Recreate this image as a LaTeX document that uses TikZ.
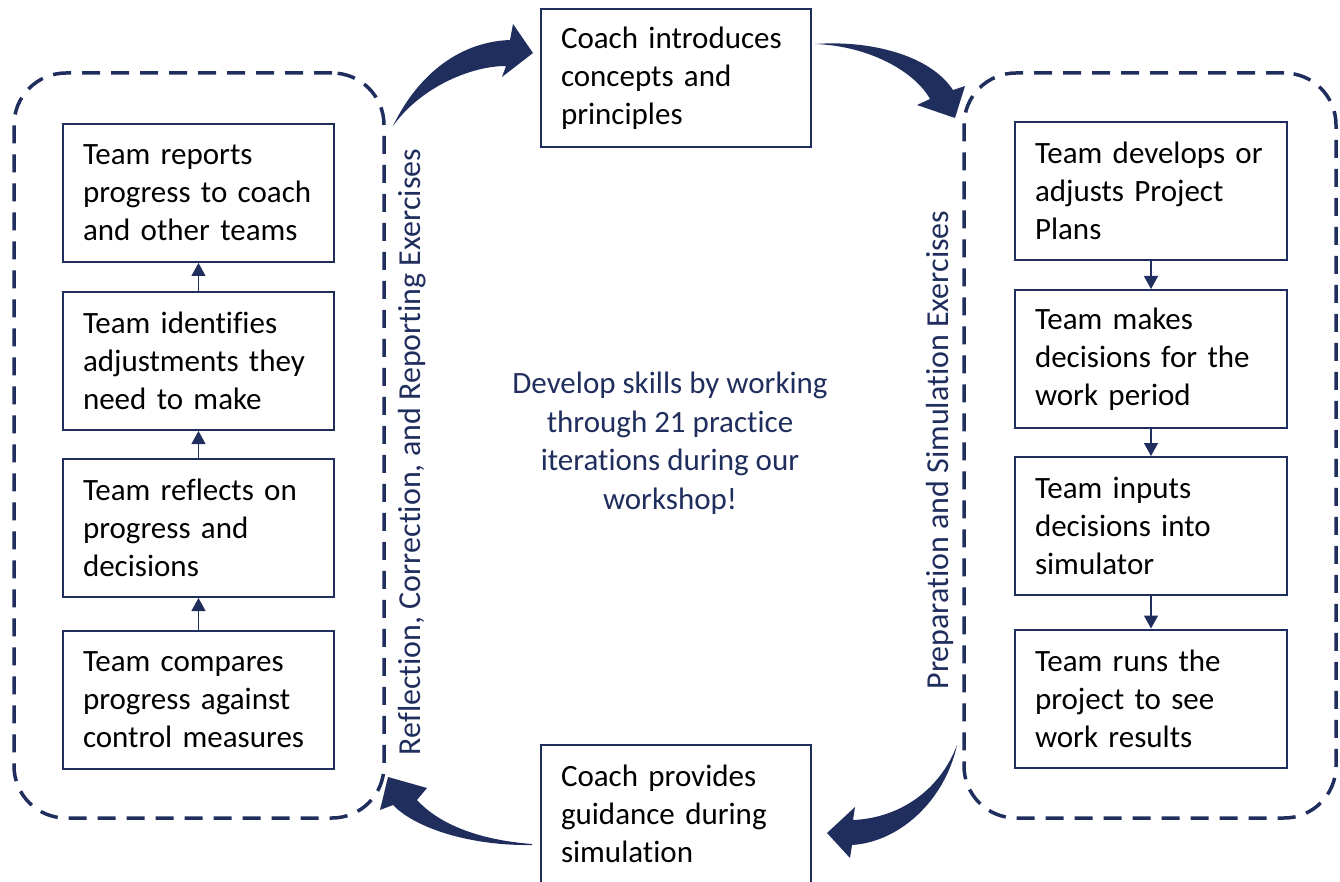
\documentclass[tikz,border=0pt]{standalone}
\usepackage{fontspec}
\setmainfont{Carlito}[Ligatures=NoCommon]
\usetikzlibrary{arrows.meta}
\definecolor{navy}{RGB}{32,46,94}
\begin{document}
\begin{tikzpicture}[x=1pt,y=-1pt,
  stepbox/.style={draw=navy,line width=2pt,inner xsep=20pt,inner ysep=0pt,
    minimum height=138pt,text width=#1,align=left,
    font=\fontsize{31}{38}\selectfont},
  container/.style={draw=navy,line width=3.5pt,dash pattern=on 18pt off 11pt,
    rounded corners=52pt},
  link/.style={draw=navy,line width=1.2pt,-{Triangle[width=14pt,length=13pt]}},
  bigarrow/.style={fill=navy,draw=none},
  sidelabel/.style={text=navy,font=\fontsize{32}{38}\selectfont,rotate=90}]
\useasboundingbox (0,0) rectangle (1340,882);

% containers
\node[container,minimum width=370pt,minimum height=745pt] (leftgroup) at (199,445.5) {};
\node[container,minimum width=372pt,minimum height=745pt] (rightgroup) at (1150,445.5) {};

% top and bottom boxes
\node[stepbox=230pt] (intro) at (676,78) {Coach introduces\\concepts and\\principles};
\node[stepbox=230pt] (guide) at (676,814) {Coach provides\\guidance during\\simulation};

% left column
\node[stepbox=231pt] (L1) at (198.5,193) {Team reports\\progress to coach\\and other teams};
\node[stepbox=231pt] (L2) at (198.5,361) {Team identifies\\adjustments they\\need to make};
\node[stepbox=231pt] (L3) at (198.5,528) {Team reflects on\\progress and\\decisions};
\node[stepbox=231pt] (L4) at (198.5,700) {Team compares\\progress against\\control measures};

% right column
\node[stepbox=232pt] (R1) at (1151,191) {Team develops or\\adjusts Project\\Plans};
\node[stepbox=232pt] (R2) at (1151,359) {Team makes\\decisions for the\\work period};
\node[stepbox=232pt] (R3) at (1151,526) {Team inputs\\decisions into\\simulator};
\node[stepbox=232pt] (R4) at (1151,698.5) {Team runs the\\project to see\\work results};

% links
\draw[link] (L4.north) -- (L3.south);
\draw[link] (L3.north) -- (L2.south);
\draw[link] (L2.north) -- (L1.south);
\draw[link] (R1.south) -- (R2.north);
\draw[link] (R2.south) -- (R3.north);
\draw[link] (R3.south) -- (R4.north);

% side labels
\node[sidelabel] (leftlabel) at (412,452) {Reflection, Correction, and Reporting Exercises};
\node[sidelabel] (rightlabel) at (940,450) {Preparation and Simulation Exercises};

% centre text
\node[text=navy,align=center,font=\fontsize{31}{38.5}\selectfont] (centre) at (670,443)
  {Develop skills by working\\through 21 practice\\iterations during our\\workshop!};

% curved block arrows
\fill[bigarrow] (393,126) .. controls (415,80) and (455,42) .. (510,40)
  -- (513,24) -- (533,53) -- (502,77) -- (506,66)
  .. controls (470,66) and (420,88) .. (393,126) -- cycle;
\fill[bigarrow] (815,44) .. controls (870,40) and (930,55) .. (953,90)
  -- (965,86) -- (955,118) -- (917,105) -- (930,99)
  .. controls (915,72) and (870,46) .. (815,44) -- cycle;
\fill[bigarrow] (957,745) .. controls (945,800) and (900,842) .. (852,845)
  -- (850,858) -- (827,833) -- (855,807) -- (853,820)
  .. controls (900,818) and (940,790) .. (957,745) -- cycle;
\fill[bigarrow] (532,844) .. controls (480,840) and (440,825) .. (417,800)
  -- (427,788) -- (388,777) -- (380,810) -- (393,805)
  .. controls (415,828) and (470,846) .. (532,845) -- cycle;
\end{tikzpicture}
\end{document}
